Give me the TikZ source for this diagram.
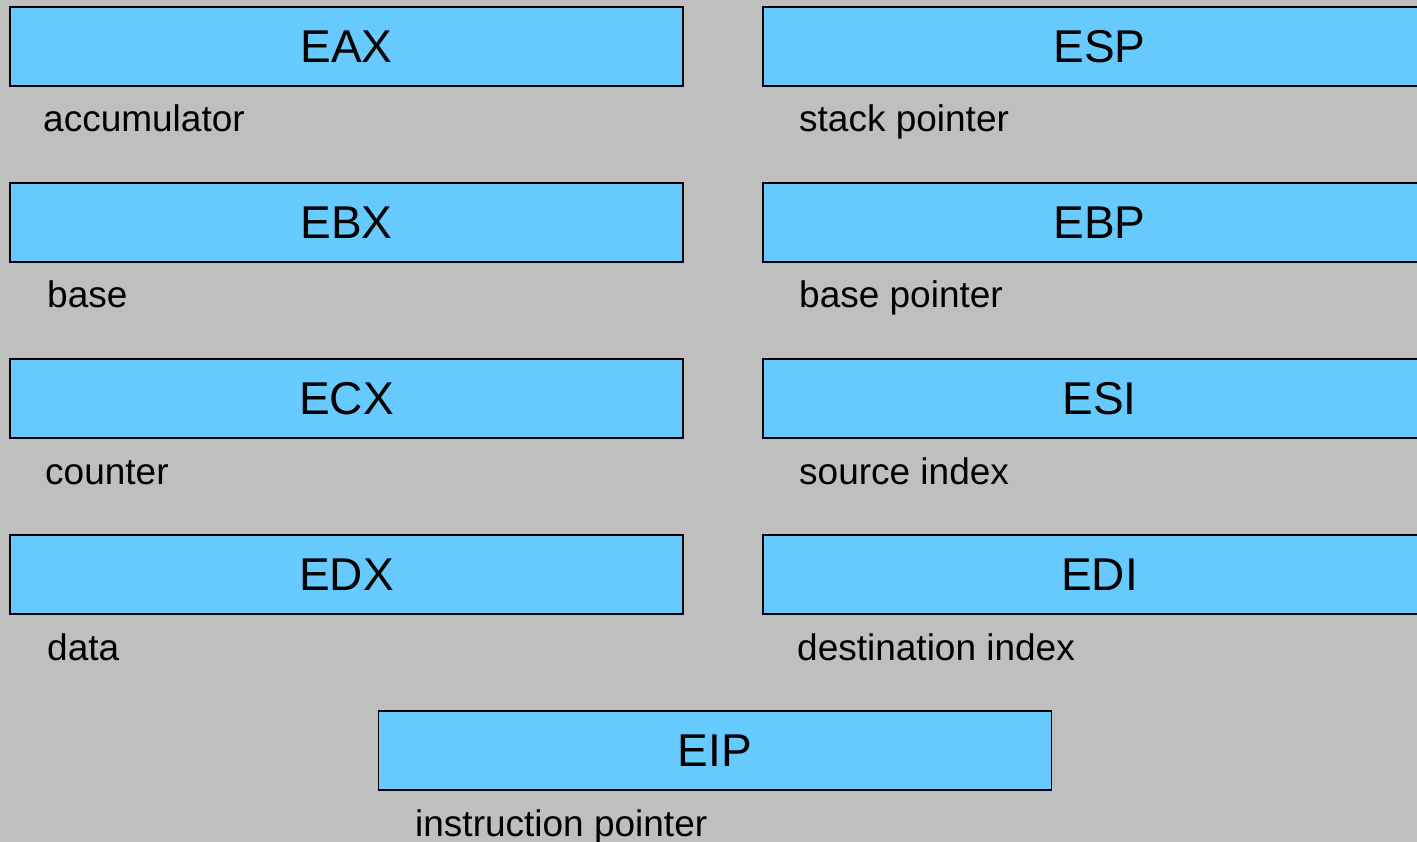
\documentclass[tikz,border=0pt]{standalone}
\usepackage{fontspec}
\setmainfont{Liberation Sans}
\definecolor{bggray}{HTML}{C0BFC0}
\definecolor{regblue}{HTML}{66CAFF}
\begin{document}
\begin{tikzpicture}[x=1pt,y=-1pt,
  reg/.style={draw=black, line width=1.6pt, fill=regblue, minimum width=673pt, minimum height=79pt, inner sep=0pt, font=\fontsize{46pt}{50pt}\selectfont},
  desc/.style={anchor=base west, inner sep=0pt, font=\fontsize{37pt}{40pt}\selectfont}]
\fill[bggray] (0,0) rectangle (1417,842);
\useasboundingbox (0,0) rectangle (1417,842);
\clip (0,0) rectangle (1417,842);
% left column
\node[reg] (eax) at (346.5,46.5) {EAX};
\node[reg] (ebx) at (346.5,222.5) {EBX};
\node[reg] (ecx) at (346.5,398.5) {ECX};
\node[reg] (edx) at (346.5,574.5) {EDX};
\node[desc] (deax) at (43,132) {accumulator};
\node[desc] (debx) at (47,308) {base};
\node[desc] (decx) at (45,484) {counter};
\node[desc] (dedx) at (47,660) {data};
% right column
\node[reg] (esp) at (1099.5,46.5) {ESP};
\node[reg] (ebp) at (1099.5,222.5) {EBP};
\node[reg] (esi) at (1099.5,398.5) {ESI};
\node[reg] (edi) at (1099.5,574.5) {EDI};
\node[desc] (desp) at (799,132) {stack pointer};
\node[desc] (debp) at (799,308) {base pointer};
\node[desc] (desi) at (799,484) {source index};
\node[desc] (dedi) at (797,660) {destination index};
% EIP
\node[reg] (eip) at (715,750.5) {EIP};
\node[desc] (deip) at (415,836) {instruction pointer};
\end{tikzpicture}
\end{document}
